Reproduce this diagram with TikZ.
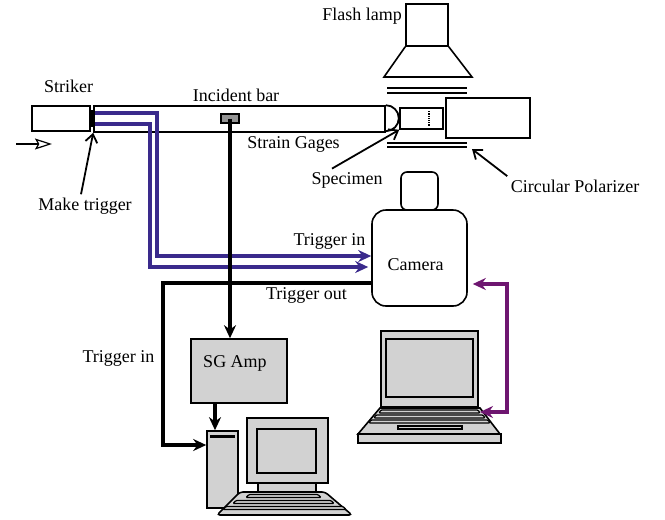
\documentclass[tikz,border=0pt]{standalone}
\usepackage{fontspec}
\setmainfont{Liberation Serif}
\usetikzlibrary{arrows.meta}

\definecolor{trigblue}{RGB}{58,42,140}
\definecolor{linkpurple}{RGB}{110,22,112}
\definecolor{boxgray}{RGB}{210,210,210}

\begin{document}
\begin{tikzpicture}[x=1pt, y=-1pt, font=\fontsize{18}{21}\selectfont,
  box/.style={draw, line width=1.6pt, inner sep=0pt},
  gbox/.style={box, fill=boxgray},
  ptr/.style={-{Straight Barb[length=8pt,width=12pt]}, line width=1.8pt},
  sig/.style={-{Stealth[length=13pt,width=12pt]}, line width=3.4pt},
  trig/.style={sig, trigblue},
  link/.style={{Stealth[length=13pt,width=12pt]}-{Stealth[length=13pt,width=12pt]}, line width=3.4pt, linkpurple},
  keys/.style={fill=boxgray, draw, line width=1.2pt, rounded corners=1pt}]

  \useasboundingbox (0,0) rectangle (665,520);

  % flash lamp and reflector
  \node[box, minimum width=42pt, minimum height=42pt] (lamp) at (427,25) {};
  \draw[line width=1.6pt] (lamp.south west) -- (384,77) -- (472,77) -- (lamp.south east);
  \node (lamplbl) at (362,16) {Flash lamp};

  % polarizer sheets
  \draw[line width=1.6pt] (387,88) -- (467,88) (387,93) -- (467,93);
  \draw[line width=1.6pt] (387,143) -- (467,143) (387,147) -- (467,147);
  \coordinate (polR) at (472,149);

  % striker, contact and incident bar
  \node[box, line width=2.4pt, minimum width=58pt, minimum height=25pt] (striker) at (61,118.5) {};
  \node[box, fill=black, minimum width=3.5pt, minimum height=16pt] (contact) at (92.3,118.5) {};
  \node[box, minimum width=291pt, minimum height=26pt] (bar) at (239.5,119) {};
  \draw[line width=1.8pt] (bar.north east) arc[start angle=90, end angle=-90, radius=13pt];
  \node[gbox, fill=gray!85, minimum width=18pt, minimum height=9pt] (gage) at (230,118.5) {};
  \node (strlbl) at (68.5,86) {Striker};
  \node (barlbl) at (236,95) {Incident bar};
  \node (gagelbl) at (293.5,144) {Strain Gages};

  % impact direction
  \coordinate (imp0) at (16,144);
  \coordinate (imp1) at (52,144);
  \draw[-{Stealth[open,length=17pt,width=11pt,inset=3pt]}, line width=1.2pt] (imp0) -- (imp1);

  % specimen and the block behind it
  \node[box, minimum width=43pt, minimum height=21pt] (spec) at (421.5,118.5) {};
  \draw[densely dotted, line width=1.2pt] ([xshift=7.5pt,yshift=-4pt]spec.north) -- ([xshift=7.5pt,yshift=4pt]spec.south);
  \node[box, minimum width=84pt, minimum height=40pt] (blk) at (488,118) {};

  % pointer labels
  \node (mk) at (85,206) {Make trigger};
  \draw[ptr] ([xshift=-4pt]mk.north) -- (bar.south west);
  \node (sp) at (347,180) {Specimen};
  \draw[ptr] ([xshift=-15pt]sp.north) -- (spec.south west);
  \node (cp) at (575,186) {Circular Polarizer};
  \draw[ptr] (cp.north west) -- (polR);

  % camera
  \node[box, rounded corners=6pt, minimum width=37pt, minimum height=38pt] (lens) at (419.5,191) {};
  \node[box, rounded corners=14pt, minimum width=95pt, minimum height=96pt] (cam) at (419.5,258) {};
  \node (camlbl) at (415.5,265) {Camera};

  % strain gage amplifier
  \node[gbox, minimum width=96pt, minimum height=64pt] (amp) at (239,371) {};
  \node (amplbl) at (235,363) {SG Amp};

  % desktop PC
  \node[gbox, minimum width=31pt, minimum height=77pt] (tower) at (222.5,469.5) {};
  \draw[line width=3pt] ([xshift=4pt,yshift=-6pt]tower.north west) -- ([xshift=-4pt,yshift=-6pt]tower.north east);
  \node[gbox, minimum width=81pt, minimum height=65pt] (mon) at (287.5,450.5) {};
  \node[gbox, minimum width=59pt, minimum height=44pt] (scr) at (286.5,451) {};
  \node[gbox, minimum width=58pt, minimum height=10pt] (stand) at (287,488) {};
  \draw[fill=boxgray, line width=1.6pt, rounded corners=3pt] (240,492) -- (325,492) -- (352,515) -- (217,515) -- cycle;
  \foreach \y/\a/\b in {496/249/318, 502/236/331, 508/226/343}
    \draw[keys] (\a,\y-1.5) -- (\b,\y-1.5) -- (\b+3,\y+1.5) -- (\a-3,\y+1.5) -- cycle;

  % laptop
  \node[gbox, minimum width=97pt, minimum height=76pt] (lapscr) at (429.5,369) {};
  \node[gbox, minimum width=87pt, minimum height=58pt] (lapwin) at (429.5,368) {};
  \draw[fill=boxgray, line width=1.6pt] (380,408) -- (480,408) -- (500,434) -- (358,434) -- cycle;
  \node[gbox, minimum width=143pt, minimum height=9pt] (lapbase) at (429.5,438.5) {};
  \foreach \y/\a/\b in {411.5/381/478, 416.5/376/483, 421.5/371/488}
    \draw[keys] (\a,\y-1.5) -- (\b,\y-1.5) -- (\b+2,\y+1.5) -- (\a-2,\y+1.5) -- cycle;
  \node[gbox, minimum width=64pt, minimum height=3pt] (pad) at (430,427.5) {};
  \coordinate (hinge) at (480,412);

  % trigger lines from the make trigger
  \coordinate (t1) at (95,113);
  \coordinate (t2) at (95,124);
  \draw[trig] (t1) -- ++(62,0) |- ([yshift=2pt]cam.west);
  \draw[trig] (t2) -- ++(55,0) |- ([xshift=-3pt,yshift=-9pt]cam.west);
  \node (tin1) at (329.5,241) {Trigger in};

  % gage signal to amplifier, amplifier to PC
  \draw[sig] (gage.center) -- (gage.center |- amp.north);
  \coordinate (ampout) at ([xshift=-24pt]amp.south);
  \draw[sig] (ampout) -- (ampout |- tower.north);

  % trigger out to the PC
  \coordinate (tbend) at (163,445);
  \draw[sig] ([yshift=-25pt]cam.west) -| (tbend) -- (tbend -| tower.west);
  \node (tout) at (306.5,295) {Trigger out};
  \node (tin2) at (118.5,358) {Trigger in};

  % camera control from the laptop
  \draw[link] ([xshift=5pt,yshift=-26pt]cam.east) -| (507,412) -- (hinge);
\end{tikzpicture}
\end{document}
